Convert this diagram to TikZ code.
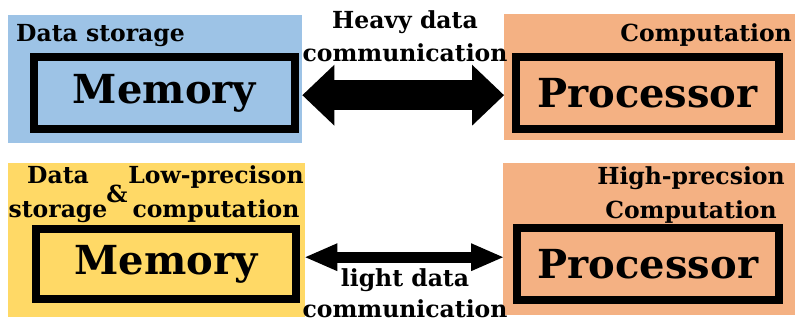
\documentclass[tikz,border=0pt]{standalone}
\usepackage{fontspec}
\setmainfont{DejaVu Serif}
\usetikzlibrary{arrows.meta}
\definecolor{memblue}{HTML}{9DC3E6}
\definecolor{procorange}{HTML}{F4B183}
\definecolor{memyellow}{HTML}{FFD966}

\begin{document}
\begin{tikzpicture}[x=1pt, y=-1pt,
    panel/.style={inner sep=0pt, anchor=north west},
    unitbox/.style={draw=black, line width=8pt, inner sep=0pt, font=\bfseries\fontsize{40}{42}\selectfont},
    lbl/.style={font=\bfseries\fontsize{23.5}{34}\selectfont, align=center, inner sep=0pt},
    heavy/.style={line width=30pt, {Triangle[length=32pt,width=61pt,line width=0pt]}-{Triangle[length=32pt,width=61pt,line width=0pt]}},
    light/.style={line width=11pt, {Triangle[length=32pt,width=28pt,line width=0pt]}-{Triangle[length=32pt,width=28pt,line width=0pt]}}]
            \useasboundingbox (0,0) rectangle (795,326);
            % top row
            \node[panel, fill=memblue, minimum width=294pt, minimum height=128pt] (memA) at (8,15) {};
            \node[panel, fill=procorange, minimum width=291pt, minimum height=126pt] (procA) at (504,14) {};
            \node[unitbox, minimum width=261pt, minimum height=72pt] (memboxA) at (164.5,93) {Memory};
            \node[unitbox, minimum width=263pt, minimum height=72pt] (procboxA) at (647.5,93) {Processor};
            \node[lbl, anchor=base west] (storeA) at (16,42) {Data storage};
            \node[lbl, anchor=base east] (compA) at (792,42) {Computation};
            \draw[heavy] ([yshift=-16pt]memA.east) -- ([yshift=-18pt]procA.west);
            \node[lbl, anchor=base, font=\bfseries\fontsize{23.5}{33}\selectfont] (heavylbl) at (405,62) {Heavy data\\communication};
            % bottom row
            \node[panel, fill=memyellow, minimum width=297pt, minimum height=154pt] (memB) at (8,163) {};
            \node[panel, fill=procorange, minimum width=292pt, minimum height=152pt] (procB) at (503,163) {};
            \node[unitbox, minimum width=260pt, minimum height=70pt] (memboxB) at (166,264) {Memory};
            \node[unitbox, minimum width=262pt, minimum height=72pt] (procboxB) at (648,264) {Processor};
            \node[lbl, anchor=base] (storeB) at (58,217) {Data\\storage};
            \node[lbl, anchor=base] (amp) at (117,202) {\&};
            \node[lbl, anchor=base] (lowlbl) at (216,217) {Low-precison\\computation};
            \node[lbl, anchor=base] (highlbl) at (691,218) {High-precsion\\Computation};
            \draw[light] ([yshift=-17pt]memB.east) -- ([yshift=-18pt]procB.west);
            \node[lbl, anchor=base, font=\bfseries\fontsize{23.5}{31}\selectfont] (lightlbl) at (405,317) {light data\\communication};
        \end{tikzpicture}
\end{document}
